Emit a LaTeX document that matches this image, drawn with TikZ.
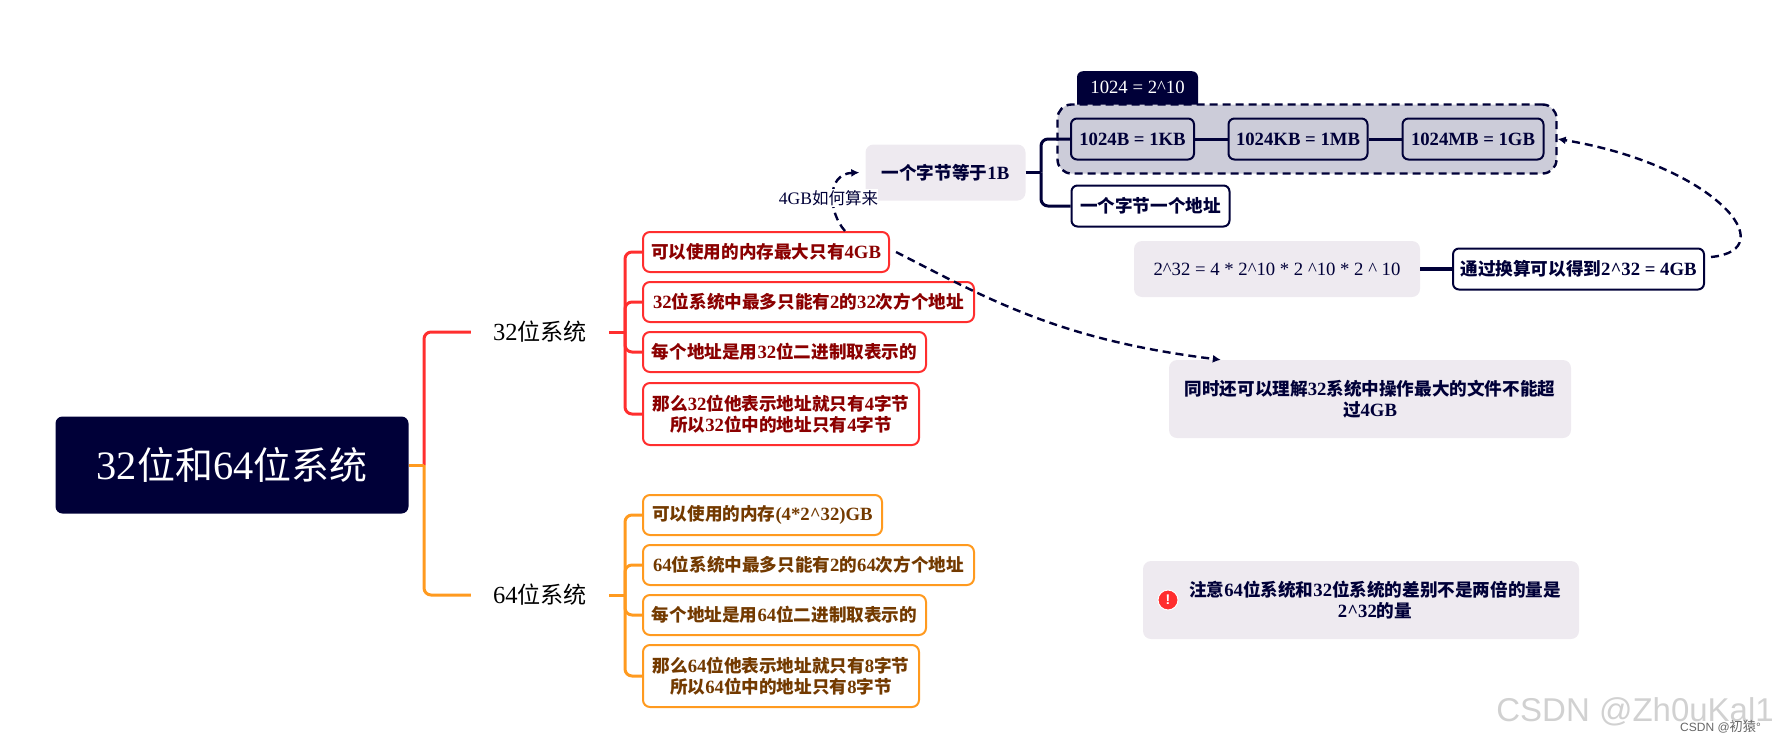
\documentclass[tikz,border=0pt]{standalone}
\usepackage{fontspec}
\setmainfont{Liberation Serif}[Scale=1.17]
\newfontfamily\cjk{Noto Sans CJK SC}[Scale=1.1]
\newfontfamily\wmfont{Liberation Sans}
\newcommand{\cn}[1]{{\cjk #1}}
\newcommand{\crt}{\textasciicircum}
\usetikzlibrary{arrows.meta}
\definecolor{navy}{HTML}{000038}
\definecolor{redline}{HTML}{FF2E2E}
\definecolor{redtext}{HTML}{8B0000}
\definecolor{orline}{HTML}{FF9A1F}
\definecolor{ortext}{HTML}{733A00}
\definecolor{pale}{HTML}{EEEAF0}
\definecolor{grpfill}{HTML}{CCCCD9}
\begin{document}
\begin{tikzpicture}[x=1pt,y=-1pt,
    every node/.style={font=\fontsize{16}{21}\selectfont,inner sep=0pt,align=center},
    rootbox/.style={fill=navy,text=white,rounded corners=7pt,minimum width=353,minimum height=97,font=\fontsize{34.5}{44}\selectfont},
    sysnode/.style={minimum width=138,minimum height=30,font=\fontsize{21}{28}\selectfont},
    redleaf/.style={draw=redline,fill=white,text=redtext,line width=2pt,rounded corners=7pt,anchor=west,font=\fontsize{16}{21}\selectfont\bfseries},
    orleaf/.style={redleaf,draw=orline,text=ortext},
    navybox/.style={draw=navy,text=navy,line width=2pt,rounded corners=6pt,minimum height=41,font=\fontsize{16}{21}\selectfont\bfseries},
    palebox/.style={fill=pale,text=navy,rounded corners=8pt,font=\fontsize{16}{21}\selectfont\bfseries},
    trunk/.style={line width=3pt,rounded corners=7pt},
    jump/.style={draw=navy,line width=2.4pt,dash pattern=on 8pt off 5pt,-{Latex[length=8pt,width=8pt]}}]
  \useasboundingbox (0,0) rectangle (1774,742);
  % left part
  \node[rootbox] (root) at (232,465) {32\cn{位和}64\cn{位系统}};
  \node[sysnode] (sys32) at (540,332) {32\cn{位系统}};
  \node[sysnode] (sys64) at (540,595) {64\cn{位系统}};
  \coordinate (fork) at (424,465);
  \coordinate (fork32) at (625,332);
  \coordinate (fork64) at (625,595);
  \draw[trunk,redline] (fork) |- (sys32.west);
  \draw[trunk,orline] (fork) |- (sys64.west);
  \draw[trunk,orline] (root.east) -- (fork);
  \draw[trunk,redline] (sys32.east) -- (fork32);
  \draw[trunk,orline] (sys64.east) -- (fork64);
  % the two leaf columns
  \foreach \i/\y/\w/\h/\t in {1/252/246/40/\cn{可以使用的内存最大只有}4GB,
      2/302/331/40/32\cn{位系统中最多只能有}2\cn{的}32\cn{次方个地址},
      3/352/283/40/\cn{每个地址是用}32\cn{位二进制取表示的},
      4/414/276/62/{\cn{那么}32\cn{位他表示地址就只有}4\cn{字节}\\\cn{所以}32\cn{位中的地址只有}4\cn{字节}}}{
    \node[redleaf,minimum width=\w,minimum height=\h] (r\i) at (642,\y) {\t};
    \draw[trunk,redline] (fork32) |- (r\i.west);
  }
  \foreach \i/\y/\w/\h/\t in {1/515/239/40/\cn{可以使用的内存}(4*2\crt32)GB,
      2/565/331/40/64\cn{位系统中最多只能有}2\cn{的}64\cn{次方个地址},
      3/615/283/40/\cn{每个地址是用}64\cn{位二进制取表示的},
      4/676/276/62/{\cn{那么}64\cn{位他表示地址就只有}8\cn{字节}\\\cn{所以}64\cn{位中的地址只有}8\cn{字节}}}{
    \node[orleaf,minimum width=\w,minimum height=\h] (o\i) at (642,\y) {\t};
    \draw[trunk,orline] (fork64) |- (o\i.west);
  }
  % upper right
  \node[palebox,minimum width=160,minimum height=56] (byte) at (945.5,172.5) {\cn{一个字节等于}1B};
  \node[fill=navy,text=white,rounded corners=6pt,anchor=north,minimum width=121,inner ysep=11pt,text height=11pt,text depth=9pt] (tab) at (1137.5,71) {1024 = 2\crt10};
  \node[draw=navy,fill=grpfill,line width=2.4pt,dash pattern=on 8pt off 5pt,rounded corners=14pt,minimum width=499,minimum height=69] (grp) at (1307,139) {};
  \node[navybox,minimum width=123] (kb) at (1132.5,139) {1024B = 1KB};
  \node[navybox,minimum width=139] (mb) at (1298,139) {1024KB = 1MB};
  \node[navybox,minimum width=141] (gb) at (1473,139) {1024MB = 1GB};
  \node[navybox,fill=white,minimum width=158] (addr) at (1150.5,206) {\cn{一个字节一个地址}};
  \coordinate (forkb) at (1041,172.5);
  \draw[trunk,navy] (byte.east) -- (forkb);
  \draw[trunk,navy] (forkb) |- (kb.west);
  \draw[trunk,navy] (forkb) |- (addr.west);
  \draw[navy,line width=3pt] (kb) -- (mb) (mb) -- (gb);
  \node[palebox,font=\fontsize{16}{21}\selectfont,minimum width=286,minimum height=56] (calc) at (1277,269) {2\crt32 = 4 * 2\crt10 * 2 \crt10 * 2 \crt{} 10};
  \node[navybox,fill=white,minimum width=251] (conv) at (1578.5,269) {\cn{通过换算可以得到}2\crt32 = 4GB};
  \draw[navy,line width=3.5pt] (calc) -- (conv);
  \node[palebox,minimum width=402,minimum height=78] (file) at (1370,399) {\cn{同时还可以理解}32\cn{系统中操作最大的文件不能超}\\\cn{过}4GB};
  \node[palebox,minimum width=436,minimum height=78] (note) at (1361,600) {};
  \node[text=navy,font=\fontsize{16}{21}\selectfont\bfseries] (notetxt) at (1375,600.5) {\cn{注意}64\cn{位系统和}32\cn{位系统的差别不是两倍的量是}\\2\crt32\cn{的量}};
  \node[circle,fill=redline,draw=white,line width=1pt,minimum size=20,text=white,font=\fontsize{14}{14}\selectfont\bfseries] (warn) at (1168,600) {\wmfont !};
  % dashed jumps
  \draw[jump] (r1.north east) ++(-45,0) .. controls (828,212) and (826,174) .. ([xshift=-6pt]byte.west);
  \node[fill=white,text=navy,inner ysep=1pt,font=\fontsize{15}{18}\selectfont] (howto) at (828.5,198) {4GB\cn{如何算来}};
  \draw[jump] (r1.east) ++(6,0) .. controls (990,300) and (1060,340) .. ([xshift=52pt]file.north west);
  \draw[jump] (conv.east) ++(6,-12) .. controls (1785,250) and (1715,165) .. (grp.east);
  % watermark
  \node[text=black!18,font=\wmfont\fontsize{33}{36}\selectfont,anchor=east] (wm) at (1774,712) {CSDN @Zh0uKal1};
  \node[text=black!60,font=\wmfont\fontsize{12}{14}\selectfont,anchor=west] (wm2) at (1680,727) {CSDN @\cn{初猿}°};
\end{tikzpicture}
\end{document}
